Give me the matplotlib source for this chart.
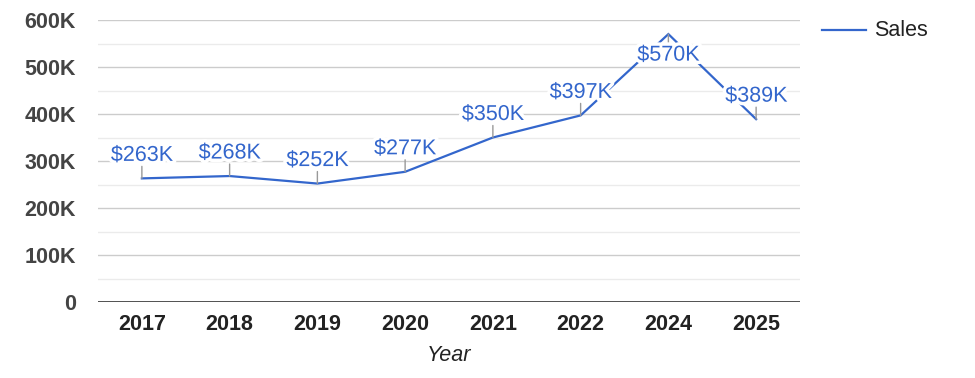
import matplotlib
matplotlib.use("Agg")
import matplotlib.pyplot as plt
import matplotlib.patheffects as pe
from matplotlib.ticker import FixedLocator

years = ["2017", "2018", "2019", "2020", "2021", "2022", "2024", "2025"]
sales = [263000, 268000, 252000, 277000, 350000, 397000, 570000, 389000]
labels = ["$263K", "$268K", "$252K", "$277K", "$350K", "$397K", "$570K", "$389K"]
y_ticks = [0, 100000, 200000, 300000, 400000, 500000, 600000]
y_tick_labels = ["0", "100K", "200K", "300K", "400K", "500K", "600K"]
minor_ticks = [50000, 150000, 250000, 350000, 450000, 550000]

plt.rcParams['font.family'] = ['Liberation Sans', 'DejaVu Sans']

BLUE = "#3366CC"
FS = 15.5
fig = plt.figure(figsize=(9.75, 3.78), dpi=100)
ax = fig.add_axes([98/975, 1 - 302/378, 702/975, 282/378])

x = list(range(len(years)))
ax.plot(x, sales, color=BLUE, lw=1.6, zorder=3, solid_joinstyle='miter')

ax.set_xlim(-0.5, len(years) - 0.5)
ax.set_ylim(0, 600000)

ax.yaxis.set_major_locator(FixedLocator(y_ticks))
ax.yaxis.set_minor_locator(FixedLocator(minor_ticks))
ax.set_yticklabels(y_tick_labels)
ax.set_xticks(x)
ax.set_xticklabels(years)

for yv in y_ticks[1:]:
    ax.axhline(yv, color="#cccccc", lw=1, zorder=1)
for yv in minor_ticks:
    ax.axhline(yv, color="#ebebeb", lw=1, zorder=1)
ax.axhline(0, color="#333333", lw=1.2, zorder=2)

for s in ax.spines.values():
    s.set_visible(False)
ax.tick_params(axis='both', which='both', length=0)
ax.tick_params(axis='y', pad=16, labelsize=FS, labelcolor="#444444")
ax.tick_params(axis='x', pad=9, labelsize=FS, labelcolor="#222222")
for t in ax.get_yticklabels() + ax.get_xticklabels():
    t.set_fontweight('bold')

ax.set_xlabel("Year", fontsize=FS, fontstyle='italic', color="#222222", labelpad=7)

px = 0.72  # points per pixel
for xi, v, lab in zip(x, sales, labels):
    below = v > 540000
    stem = -10 if below else 12
    toff = -21 if below else 23
    ax.annotate("", xy=(xi, v), xytext=(0, stem * px), textcoords='offset points',
                arrowprops=dict(arrowstyle='-', color="#999999", lw=1,
                                shrinkA=0, shrinkB=0), zorder=4)
    ax.annotate(lab, xy=(xi, v), xytext=(0, toff * px), textcoords='offset points',
                ha='center', va='center', fontsize=FS, color=BLUE, zorder=5,
                path_effects=[pe.withStroke(linewidth=5, foreground='white')])

# legend
fig.lines.append(plt.Line2D([822/975, 866/975], [1 - 30/378, 1 - 30/378],
                            transform=fig.transFigure, color=BLUE, lw=1.6))
fig.text(874/975, 1 - 30/378, "Sales", fontsize=FS, color="#222222",
         ha='left', va='center')

fig.savefig("out.png", dpi=100, facecolor='white')
